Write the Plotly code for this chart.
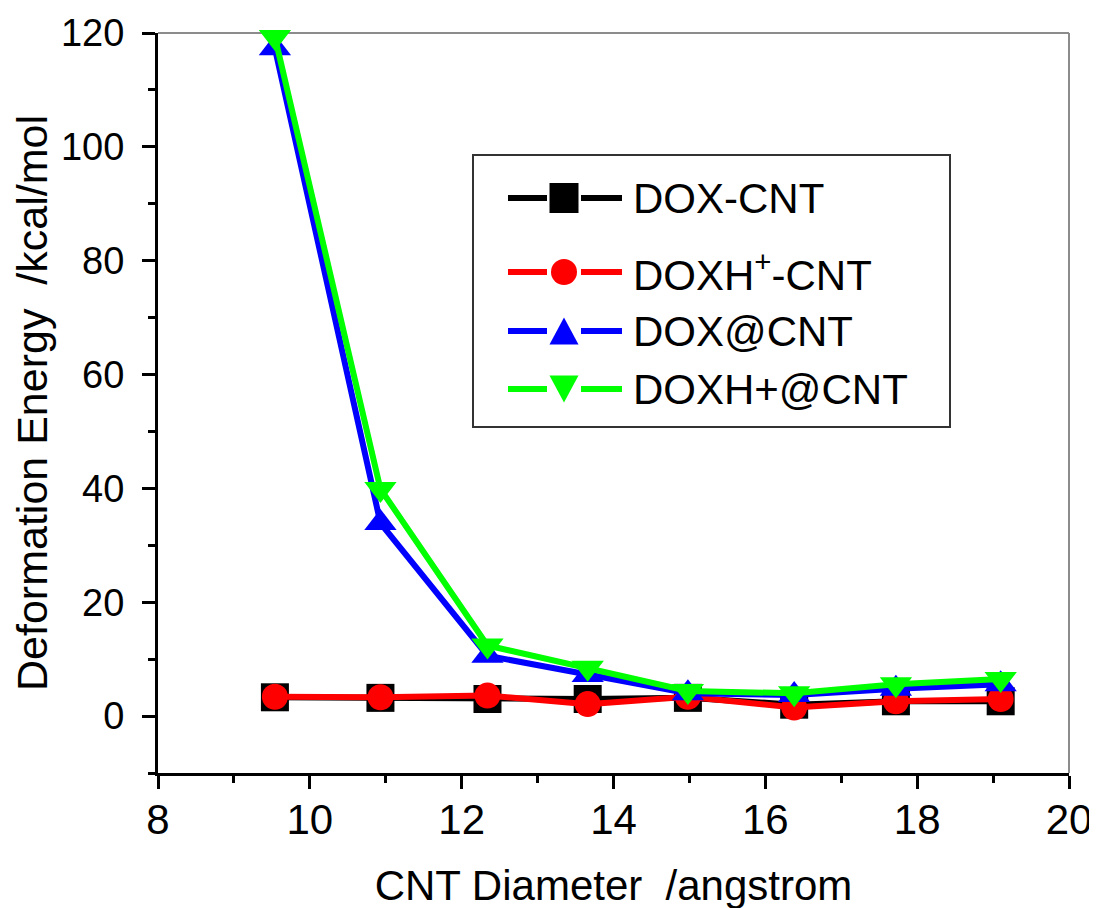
import plotly.graph_objects as go

# ---- data ----
diameter = [9.54, 10.93, 12.34, 13.66, 14.98, 16.38, 17.72, 19.10]
dox_cnt = [3.3, 3.2, 3.0, 3.0, 3.2, 2.0, 2.6, 2.6]
doxh_cnt = [3.4, 3.3, 3.6, 2.1, 3.4, 1.5, 2.6, 3.0]
dox_at_cnt = [117.3, 33.9, 10.6, 7.2, 4.0, 3.7, 4.8, 5.6]
doxh_at_cnt = [119.3, 39.9, 12.4, 8.5, 4.4, 4.0, 5.6, 6.5]
series_names = ["DOX-CNT", "DOXH<sup>+</sup>-CNT", "DOX@CNT", "DOXH+@CNT"]

series_vals = [dox_cnt, doxh_cnt, dox_at_cnt, doxh_at_cnt]
colors = ["#000000", "#ff0000", "#0000ff", "#00ff00"]
symbols = ["square", "circle", "triangle-up", "triangle-down"]
sizes = [28, 26, 28, 28]

FONT = "Liberation Sans, Arial, sans-serif"

fig = go.Figure()
for name, vals, color, sym, sz in zip(series_names, series_vals, colors, symbols, sizes):
    fig.add_trace(go.Scatter(
        x=diameter, y=vals, name=name, mode="lines+markers",
        line=dict(color=color, width=6),
        marker=dict(symbol=sym, size=sz, color=color, line=dict(width=0)),
        cliponaxis=False, showlegend=False,
    ))

# ---- plot-area geometry (page pixels) used to place the hand-drawn legend ----
PL, PR, PT, PB = 158, 1069, 33, 773


def px(x):
    return (x - PL) / (PR - PL)


def py(y):
    return (PB - y) / (PB - PT)


shapes = [
    dict(type="line", xref="paper", yref="paper", x0=0, x1=1, y0=1, y1=1,
         line=dict(color="#8c8c8c", width=2), layer="below"),
    dict(type="line", xref="paper", yref="paper", x0=1, x1=1, y0=0, y1=1,
         line=dict(color="#8c8c8c", width=2), layer="below"),
    # legend frame
    dict(type="rect", xref="paper", yref="paper",
         x0=px(473), x1=px(950), y0=py(427), y1=py(155),
         line=dict(color="#333333", width=2), fillcolor="white", layer="above"),
]
annotations = []

item_y = [198, 272, 331, 389]
mx = 564
for name, color, sym, yc in zip(series_names, colors, symbols, item_y):
    for xa, xb in [(508, 547), (581, 622)]:
        shapes.append(dict(type="line", xref="paper", yref="paper",
                           x0=px(xa), x1=px(xb), y0=py(yc), y1=py(yc),
                           line=dict(color=color, width=6), layer="above"))
    if sym == "square":
        shapes.append(dict(type="rect", xref="paper", yref="paper",
                           x0=px(mx - 14.5), x1=px(mx + 14.5), y0=py(yc + 15), y1=py(yc - 15),
                           line=dict(width=0), fillcolor=color, layer="above"))
    elif sym == "circle":
        shapes.append(dict(type="circle", xref="paper", yref="paper",
                           x0=px(mx - 13), x1=px(mx + 13), y0=py(yc + 13), y1=py(yc - 13),
                           line=dict(width=0), fillcolor=color, layer="above"))
    else:
        h = 13.5
        w = 14.5
        if sym == "triangle-up":
            pts = [(mx - w, yc + h), (mx + w, yc + h), (mx, yc - h)]
        else:
            pts = [(mx - w, yc - h), (mx + w, yc - h), (mx, yc + h)]
        path = "M " + " L ".join(f"{px(a):.5f},{py(b):.5f}" for a, b in pts) + " Z"
        shapes.append(dict(type="path", xref="paper", yref="paper", path=path,
                           line=dict(width=0), fillcolor=color, layer="above"))
    annotations.append(dict(
        text=name, xref="paper", yref="paper", x=px(631), y=py(yc),
        xanchor="left", yanchor="middle", showarrow=False,
        font=dict(family=FONT, size=42, color="black"),
    ))

fig.update_layout(
    template="none",
    width=1097, height=908,
    margin=dict(l=150, r=36, t=25, b=143, autoexpand=False),
    paper_bgcolor="white", plot_bgcolor="white",
    font=dict(family=FONT, size=40, color="black"),
    showlegend=False,
    xaxis=dict(
        range=[8, 20], dtick=2, tick0=8, automargin=False,
        showgrid=False, zeroline=False,
        showline=True, linecolor="black", linewidth=3,
        ticks="outside", ticklen=13, tickwidth=2.5, tickcolor="black",
        minor=dict(ticks="outside", ticklen=7, tickwidth=2.5, tickcolor="black", dtick=1, showgrid=False),
        tickfont=dict(size=42), ticklabelstandoff=-5,
        title=dict(text="CNT Diameter  /angstrom", font=dict(size=42), standoff=29),
    ),
    yaxis=dict(
        range=[-10, 120], dtick=20, tick0=0, automargin=False,
        showgrid=False, zeroline=False,
        showline=True, linecolor="black", linewidth=3,
        ticks="outside", ticklen=13, tickwidth=2.5, tickcolor="black",
        minor=dict(ticks="outside", ticklen=7, tickwidth=2.5, tickcolor="black", dtick=10, showgrid=False),
        tickfont=dict(size=38), ticklabelstandoff=10,
        title=dict(text="Deformation Energy  /kcal/mol", font=dict(size=43), standoff=12),
    ),
    shapes=shapes,
    annotations=annotations,
)

fig.write_html("out.html")
